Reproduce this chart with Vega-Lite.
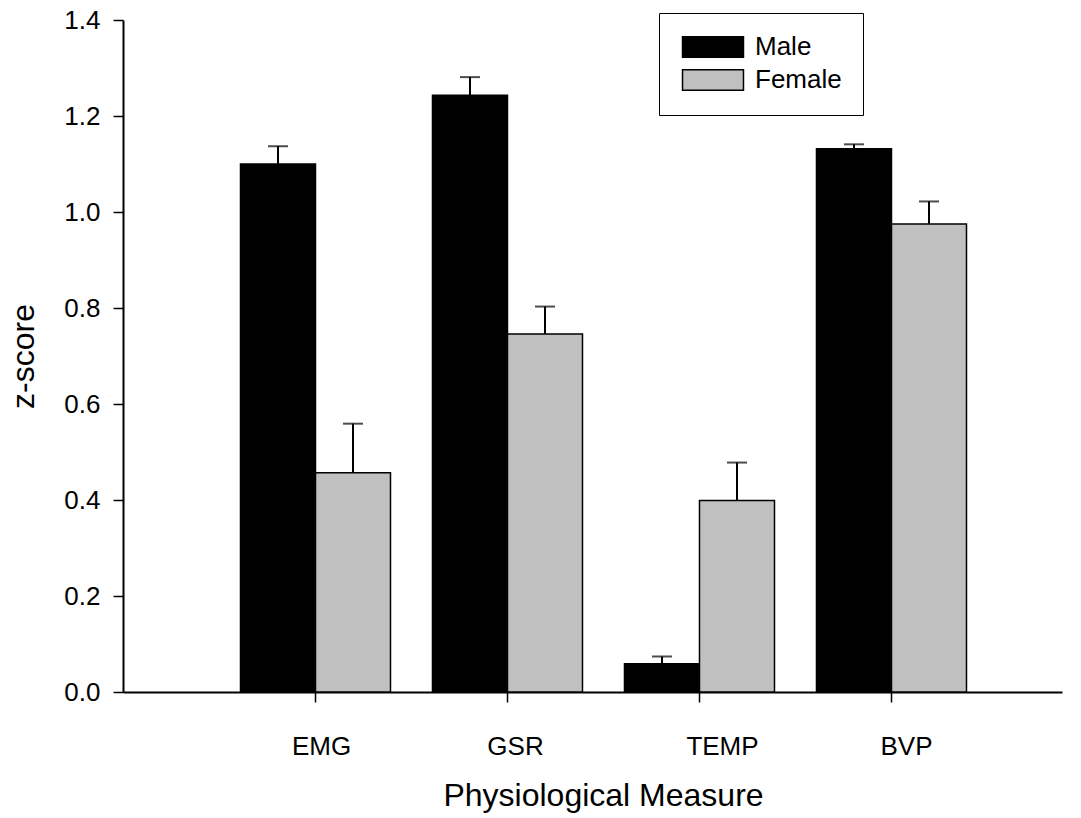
{
  "$schema": "https://vega.github.io/schema/vega-lite/v6.json",
  "width": 939,
  "height": 672,
  "autosize": {"type": "none"},
  "padding": {"left": 123, "top": 20, "right": 19, "bottom": 126},
  "background": "white",
  "config": {
    "font": "Liberation Sans",
    "view": {"stroke": null}
  },
  "data": {
    "values": [
      {"measure": "EMG", "sex": "Male", "zscore": 1.100, "upper": 1.137},
      {"measure": "EMG", "sex": "Female", "zscore": 0.457, "upper": 0.559},
      {"measure": "GSR", "sex": "Male", "zscore": 1.243, "upper": 1.281},
      {"measure": "GSR", "sex": "Female", "zscore": 0.746, "upper": 0.803},
      {"measure": "TEMP", "sex": "Male", "zscore": 0.059, "upper": 0.074},
      {"measure": "TEMP", "sex": "Female", "zscore": 0.399, "upper": 0.478},
      {"measure": "BVP", "sex": "Male", "zscore": 1.132, "upper": 1.141},
      {"measure": "BVP", "sex": "Female", "zscore": 0.975, "upper": 1.022}
    ]
  },
  "encoding": {
    "x": {
      "field": "measure",
      "type": "nominal",
      "sort": ["EMG", "GSR", "TEMP", "BVP"],
      "scale": {"paddingInner": 0.21875, "paddingOuter": 0.5547, "align": 0.5516},
      "axis": {
        "title": "Physiological Measure",
        "domainColor": "black",
        "domainWidth": 2,
        "tickColor": "black",
        "tickWidth": 1.5,
        "tickSize": 10,
        "labelFontSize": 26,
        "labelColor": "black",
        "labelAngle": 0,
        "labelBaseline": "alphabetic",
        "labelPadding": 52,
        "labelOffset": {"expr": "datum.value == 'TEMP' ? 23 : datum.value == 'BVP' ? 15 : datum.value == 'GSR' ? 8 : 6"},
        "titleFontSize": 32,
        "titleFontWeight": "normal",
        "titleColor": "black",
        "titleX": 480,
        "titleY": 113,
        "titleBaseline": "alphabetic"
      }
    },
    "xOffset": {
      "field": "sex",
      "type": "nominal",
      "sort": ["Male", "Female"],
      "scale": {"paddingInner": 0, "paddingOuter": 0}
    }
  },
  "layer": [
    {
      "mark": {"type": "bar", "stroke": "black", "strokeWidth": 1.5},
      "encoding": {
        "y": {
          "field": "zscore",
          "type": "quantitative",
          "title": "z-score",
          "scale": {"domain": [0, 1.4], "nice": false},
          "axis": {
            "values": [0, 0.2, 0.4, 0.6, 0.8, 1.0, 1.2, 1.4],
            "format": ".1f",
            "grid": false,
            "domainColor": "black",
            "domainWidth": 2,
            "tickColor": "black",
            "tickWidth": 1.5,
            "tickSize": 10,
            "labelFontSize": 26,
            "labelColor": "black",
            "labelPadding": 13,
            "labelFlush": false,
            "labelOverlap": false,
            "titleFontSize": 32,
            "titleFontWeight": "normal",
            "titleColor": "black",
            "titleAngle": 270,
            "titleX": -90,
            "titleY": 336,
            "titleAlign": "center",
            "titleBaseline": "alphabetic"
          }
        },
        "fill": {
          "field": "sex",
          "type": "nominal",
          "sort": ["Male", "Female"],
          "scale": {"domain": ["Male", "Female"], "range": ["#000000", "#c0c0c0"]},
          "legend": {
            "title": null,
            "orient": "none",
            "legendX": 536,
            "legendY": -7,
            "strokeColor": "black",
            "padding": 21,
            "symbolType": "M-3,-1H3V1H-3Z",
            "symbolSize": 413,
            "symbolStrokeColor": "black",
            "symbolStrokeWidth": 1.5,
            "symbolOpacity": 1,
            "symbolOffset": 20,
            "labelOffset": 29,
            "labelFontSize": 26,
            "labelColor": "black",
            "rowPadding": 5
          }
        }
      }
    },
    {
      "mark": {"type": "rule", "color": "black", "strokeWidth": 2},
      "encoding": {
        "y": {"field": "zscore", "type": "quantitative", "title": "z-score"},
        "y2": {"field": "upper"}
      }
    },
    {
      "mark": {"type": "tick", "color": "black", "size": 20, "thickness": 2},
      "encoding": {
        "y": {"field": "upper", "type": "quantitative", "title": "z-score"}
      }
    }
  ]
}
